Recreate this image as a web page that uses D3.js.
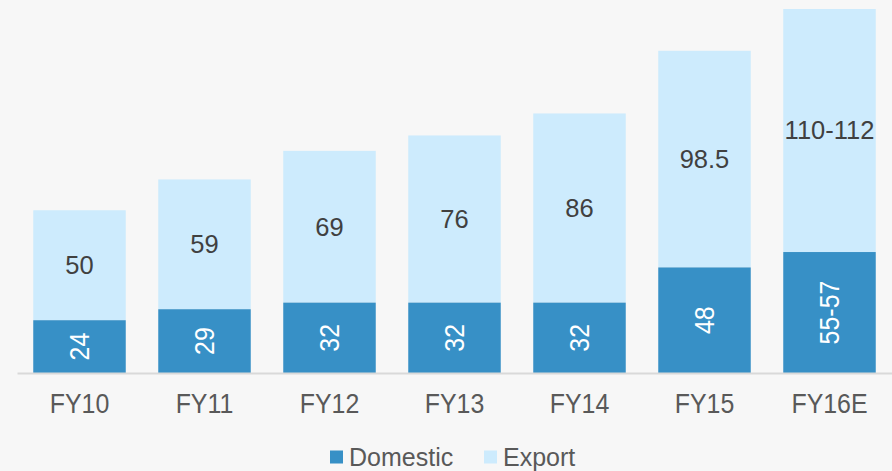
<!DOCTYPE html>
<html>
<head>
<meta charset="utf-8">
<script src="https://cdn.jsdelivr.net/npm/d3@7"></script>
<style>
  body { margin: 0; background: #f7f7f7; }
  svg { display: block; font-family: "Liberation Sans", Arial, sans-serif; }
</style>
</head>
<body>
<svg class="chart" width="892" height="471"></svg>
<script>
// data
var years = ["FY10", "FY11", "FY12", "FY13", "FY14", "FY15", "FY16E"];
var domestic = [24, 29, 32, 32, 32, 48, 55];
var exportVals = [50, 59, 69, 76, 86, 98.5, 110.5];
var domesticLabels = ["24", "29", "32", "32", "32", "48", "55-57"];
var exportLabels = ["50", "59", "69", "76", "86", "98.5", "110-112"];

var svg = d3.select("svg.chart");
var baseY = 373;

var x = d3.scaleBand()
    .domain(years)
    .range([17, 892])
    .paddingInner(0.26)
    .paddingOuter(0.13);
var y = d3.scaleLinear()
    .domain([0, 165.5])
    .range([baseY, 9]);

var rows = years.map(function(d, i) {
  return {year: d, dom: domestic[i], exp: exportVals[i], dl: domesticLabels[i], el: exportLabels[i]};
});

var g = svg.append("g");

// export (top) segments
g.selectAll("rect.exp").data(rows).enter().append("rect")
    .attr("class", "exp")
    .attr("x", function(d) { return x(d.year); })
    .attr("width", x.bandwidth())
    .attr("y", function(d) { return y(d.dom + d.exp); })
    .attr("height", function(d) { return y(d.dom) - y(d.dom + d.exp); })
    .attr("fill", "#cdebfd");

// domestic segments
g.selectAll("rect.dom").data(rows).enter().append("rect")
    .attr("class", "dom")
    .attr("x", function(d) { return x(d.year); })
    .attr("width", x.bandwidth())
    .attr("y", function(d) { return y(d.dom); })
    .attr("height", function(d) { return y(0) - y(d.dom); })
    .attr("fill", "#3790c6");

// axis - labels are a bit tall/narrow in the original
var xAxis = d3.axisBottom(x).tickSize(0).tickPadding(20.5);
var ax = svg.append("g")
    .attr("transform", "translate(0," + baseY + ")")
    .call(xAxis);
ax.select(".domain").attr("stroke", "#d9d9d9").attr("stroke-width", 2);
ax.selectAll("text")
    .attr("fill", "#595959")
    .attr("transform", "scale(0.89,1)")
    .style("font-size", "28px")
    .style("font-family", "'Liberation Sans', Arial, sans-serif");

// export labels
g.selectAll("text.el").data(rows).enter().append("text")
    .attr("x", function(d) { return x(d.year) + x.bandwidth() / 2; })
    .attr("y", function(d) { return (y(d.dom) + y(d.dom + d.exp)) / 2; })
    .attr("dy", "0.35em")
    .attr("text-anchor", "middle")
    .attr("fill", "#404040")
    .style("font-size", "25.5px")
    .text(function(d) { return d.el; });

// domestic labels, rotated
g.selectAll("text.dl").data(rows).enter().append("text")
    .attr("transform", function(d) {
      var cx = x(d.year) + x.bandwidth() / 2;
      var cy = (y(0) + y(d.dom)) / 2;
      return "translate(" + cx + "," + cy + ") rotate(-90) scale(0.89,1)";
    })
    .attr("dy", "0.35em")
    .attr("text-anchor", "middle")
    .attr("fill", "#ffffff")
    .style("font-size", "28px")
    .text(function(d) { return d.dl; });

// legend
var legend = [{name: "Domestic", color: "#3790c6", x: 330}, {name: "Export", color: "#cdebfd", x: 484}];
var lg = svg.selectAll("g.legend").data(legend).enter().append("g")
    .attr("transform", function(d) { return "translate(" + d.x + ",457)"; });
lg.append("rect")
    .attr("x", 0).attr("y", -6.5)
    .attr("width", 13).attr("height", 13)
    .attr("fill", function(d) { return d.color; });
lg.append("text")
    .attr("x", 19)
    .attr("dy", "0.35em")
    .attr("fill", "#595959")
    .style("font-size", "25px")
    .text(function(d) { return d.name; });
</script>
</body>
</html>
